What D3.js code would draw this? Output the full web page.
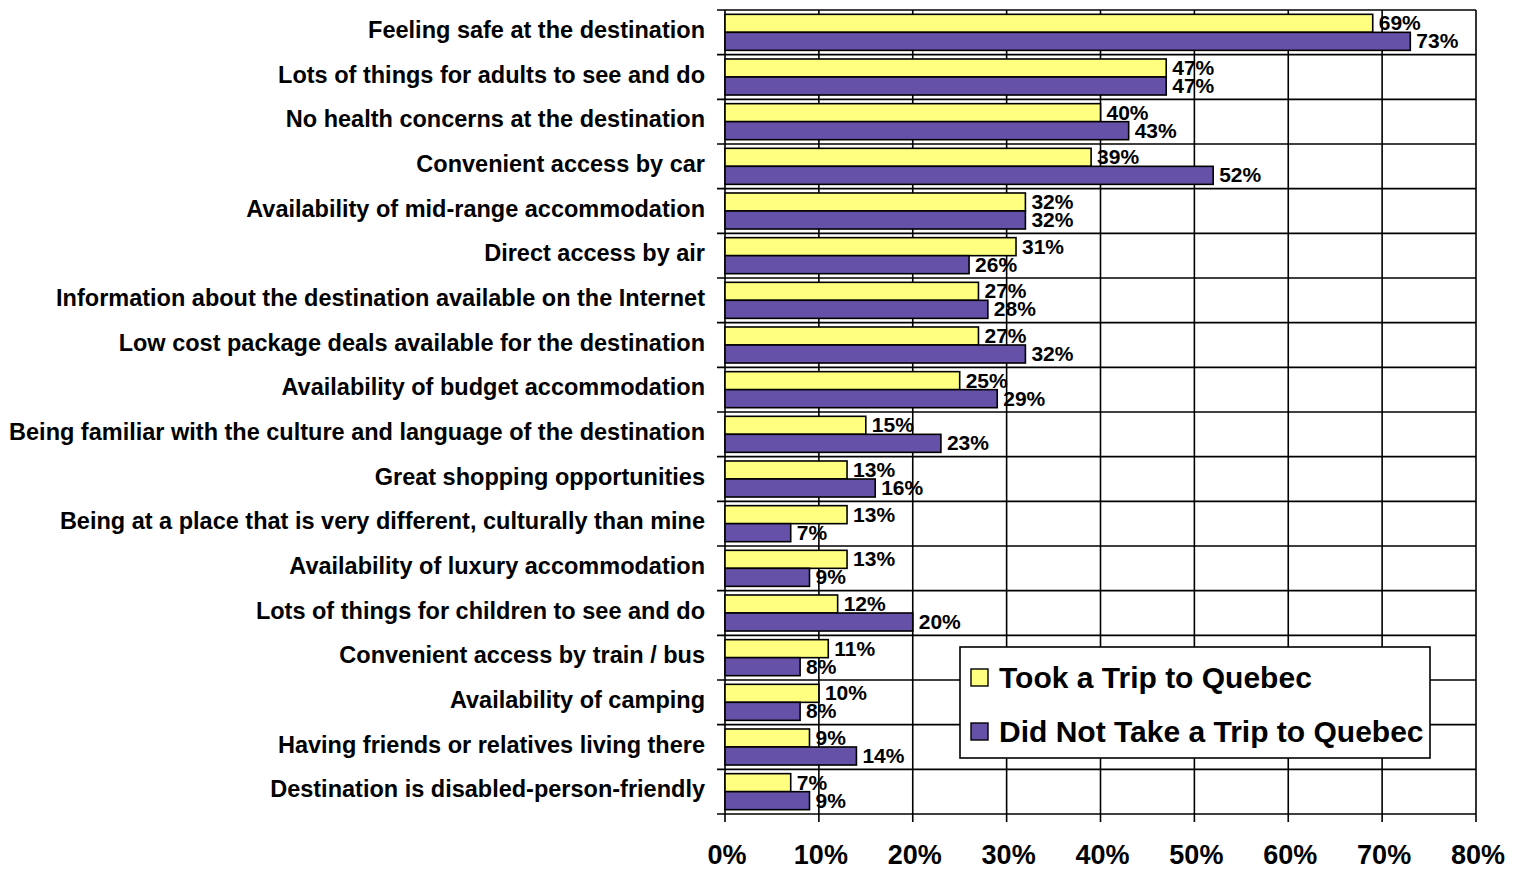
<!DOCTYPE html>
<html>
<head>
<meta charset="utf-8">
<script src="https://cdn.jsdelivr.net/npm/d3@7"></script>
<style>
  body { margin: 0; background: #fff; }
  text { font-family: Arial, "Liberation Sans", sans-serif; font-weight: bold; fill: #000; }
</style>
</head>
<body>
<div id="chart"></div>
<script>
const categories = [
  'Feeling safe at the destination',
  'Lots of things for adults to see and do',
  'No health concerns at the destination',
  'Convenient access by car',
  'Availability of mid-range accommodation',
  'Direct access by air',
  'Information about the destination available on the Internet',
  'Low cost package deals available for the destination',
  'Availability of budget accommodation',
  'Being familiar with the culture and language of the destination',
  'Great shopping opportunities',
  'Being at a place that is very different, culturally than mine',
  'Availability of luxury accommodation',
  'Lots of things for children to see and do',
  'Convenient access by train / bus',
  'Availability of camping',
  'Having friends or relatives living there',
  'Destination is disabled-person-friendly'
]
const tookTrip = [69, 47, 40, 39, 32, 31, 27, 27, 25, 15, 13, 13, 13, 12, 11, 10, 9, 7]
const didNotTake = [73, 47, 43, 52, 32, 26, 28, 32, 29, 23, 16, 7, 9, 20, 8, 8, 14, 9]
const seriesNames = ['Took a Trip to Quebec', 'Did Not Take a Trip to Quebec']
const xTickValues = [0, 10, 20, 30, 40, 50, 60, 70, 80]

const colors = ['#FFFF80', '#6651A8']
const width = 1518
const height = 869
const margin = {top: 10, left: 725, right: 42, bottom: 55}
const w = width - margin.left - margin.right
const h = height - margin.top - margin.bottom

const data = categories.map((c, i) => ({name: c, values: [tookTrip[i], didNotTake[i]]}))

const svg = d3.select('#chart').append('svg')
  .attr('width', width).attr('height', height)
const plot = svg.append('g').attr('transform', 'translate(' + margin.left + ',' + margin.top + ')')

const x = d3.scaleLinear().domain([0, 80]).range([0, w])
const y = d3.scaleBand().domain(categories).range([0, h])
const ySub = d3.scaleBand().domain([0, 1]).range([0, y.bandwidth()]).paddingOuter(0.24)

// grid
plot.append('g')
  .selectAll('line')
  .data(xTickValues)
  .enter().append('line')
  .attr('x1', d => x(d)).attr('x2', d => x(d))
  .attr('y1', 0).attr('y2', h)
  .attr('stroke', '#000').attr('stroke-width', 1.6)

const boundaries = categories.map(c => y(c)).concat([h])
plot.append('g')
  .selectAll('line')
  .data(boundaries)
  .enter().append('line')
  .attr('x1', -8).attr('x2', w)
  .attr('y1', d => d).attr('y2', d => d)
  .attr('stroke', '#000').attr('stroke-width', 1.6)

// x ticks
plot.append('g')
  .selectAll('line')
  .data(xTickValues)
  .enter().append('line')
  .attr('x1', d => x(d)).attr('x2', d => x(d))
  .attr('y1', h).attr('y2', h + 8)
  .attr('stroke', '#000').attr('stroke-width', 1.6)

plot.append('g')
  .selectAll('text')
  .data(xTickValues)
  .enter().append('text')
  .attr('x', d => x(d) + 2)
  .attr('y', h + 50)
  .attr('text-anchor', 'middle')
  .style('font-size', '27px')
  .text(d => d + '%')

// bars
const groups = plot.append('g')
  .selectAll('.cat')
  .data(data)
  .enter().append('g')
  .attr('class', 'cat')
  .attr('transform', d => 'translate(0,' + y(d.name) + ')')

groups.selectAll('rect')
  .data(d => d.values)
  .enter().append('rect')
  .attr('x', x(0))
  .attr('y', (d, i) => ySub(i))
  .attr('width', d => x(d) - x(0))
  .attr('height', ySub.bandwidth())
  .attr('fill', (d, i) => colors[i])
  .attr('stroke', '#000')
  .attr('stroke-width', 1.6)

groups.selectAll('.val')
  .data(d => d.values)
  .enter().append('text')
  .attr('class', 'val')
  .attr('x', d => x(d) + 6)
  .attr('y', (d, i) => ySub(i) + ySub.bandwidth() / 2)
  .attr('dy', '0.33em')
  .style('font-size', '21px')
  .text(d => d + '%')

// category labels
plot.append('g')
  .selectAll('text')
  .data(categories)
  .enter().append('text')
  .attr('x', -20)
  .attr('y', d => y(d) + y.bandwidth() / 2 - 2)
  .attr('dy', '0.33em')
  .attr('text-anchor', 'end')
  .style('font-size', '23.5px')
  .text(d => d)

// legend
const legend = svg.append('g').attr('transform', 'translate(960,647)')
legend.append('rect')
  .attr('width', 470).attr('height', 111)
  .attr('fill', '#fff').attr('stroke', '#000').attr('stroke-width', 1.6)

const items = legend.selectAll('.item')
  .data(seriesNames)
  .enter().append('g')
  .attr('class', 'item')
  .attr('transform', (d, i) => 'translate(11,' + (30 + i * 54) + ')')

items.append('rect')
  .attr('x', 0).attr('y', -8)
  .attr('width', 17).attr('height', 17)
  .attr('fill', (d, i) => colors[i])
  .attr('stroke', '#000').attr('stroke-width', 1.4)

items.append('text')
  .attr('x', 28)
  .attr('dy', '0.36em')
  .style('font-size', '30px')
  .text(d => d)
</script>
</body>
</html>
